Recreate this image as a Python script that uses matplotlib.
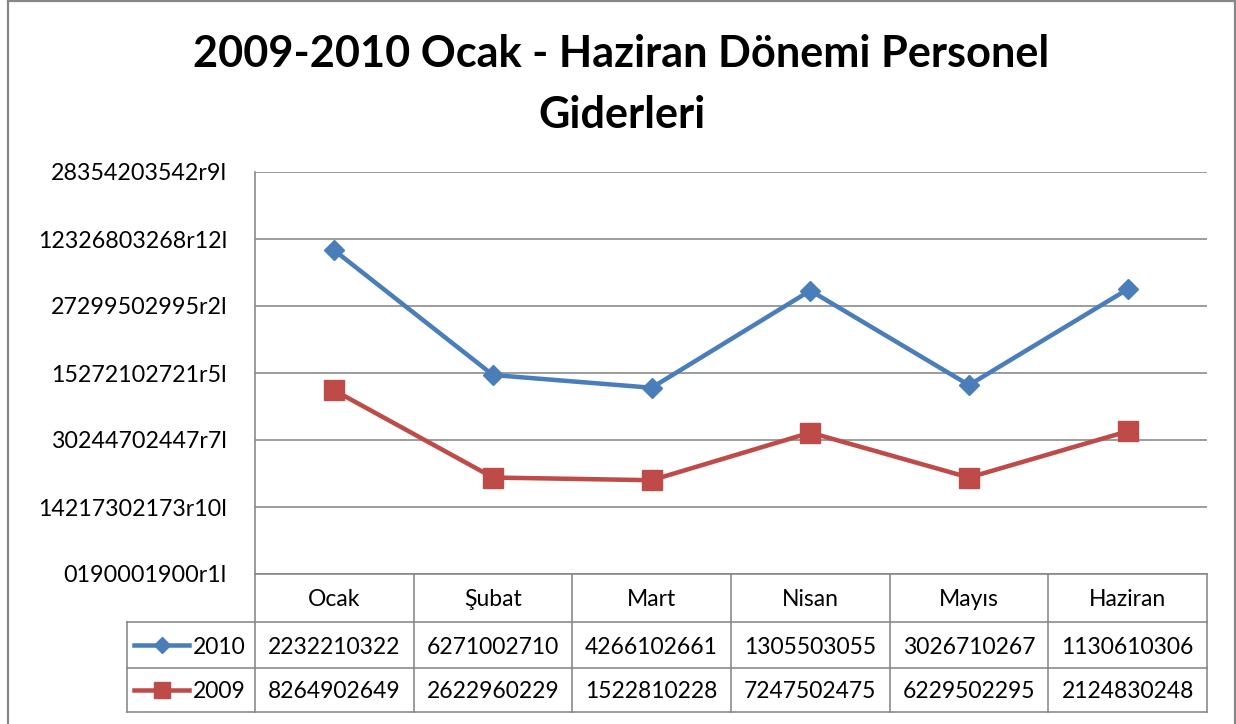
import matplotlib
matplotlib.use("Agg")
import matplotlib.pyplot as plt
from matplotlib.lines import Line2D

# ---------------- data ----------------
categories = ["Ocak", "Şubat", "Mart", "Nisan", "Mayıs", "Haziran"]
series_names = ["2010", "2009"]
values_2010 = [4.83, 2.97, 2.78, 4.23, 2.82, 4.25]
values_2009 = [2.74, 1.44, 1.40, 2.11, 1.44, 2.13]
table_2010 = ["2232210322", "6271002710", "4266102661", "1305503055",
              "3026710267", "1130610306"]
table_2009 = ["8264902649", "2622960229", "1522810228", "7247502475",
              "6229502295", "2124830248"]
ytick_values = [0, 1, 2, 3, 4, 5, 6]
ytick_labels = ["0190001900r1l", "14217302173r10l", "30244702447r7l",
                "15272102721r5l", "27299502995r2l", "12326803268r12l",
                "28354203542r9l"]
title_lines = ["2009-2010 Ocak - Haziran Dönemi Personel", "Giderleri"]

# ---------------- style ----------------
W, H = 1236, 724
FONT = "Lato"
BLUE = "#4A7EBB"
RED = "#BE4B48"
GRID = "#868686"
PX = 72.0 / 100.0  # points per pixel

fig = plt.figure(figsize=(W / 100, H / 100), dpi=100)
fig.patch.set_facecolor("white")
renderer = fig.canvas.get_renderer()


def fit_size(text, width_px, **kw):
    t = fig.text(0, 0, text, fontsize=20, family=FONT, **kw)
    w = t.get_window_extent(renderer).width
    t.remove()
    return 20.0 * width_px / w


title_fs = fit_size(title_lines[0], 855, weight="bold")
tick_fs = fit_size("12326803268r12l", 189)
cell_fs = fit_size("2232210322", 132)

# overlay in pixel coordinates
ov = fig.add_axes([0, 0, 1, 1])
ov.set_xlim(0, W)
ov.set_ylim(H, 0)
ov.axis("off")

# plot area
L, R, T, B = 255, 1207, 172, 574
ax = fig.add_axes([L / W, 1 - B / H, (R - L) / W, (B - T) / H])
ax.set_facecolor("none")
x = list(range(len(categories)))
ax.plot(x, values_2010, color=BLUE, lw=4.5 * PX, marker="D",
        ms=10.5, mfc=BLUE, mec=BLUE, zorder=4, solid_joinstyle="miter")
ax.plot(x, values_2009, color=RED, lw=4.5 * PX, marker="s",
        ms=14, mfc=RED, mec=RED, zorder=4, solid_joinstyle="miter")
ax.set_xlim(-0.5, len(categories) - 0.5)
ax.set_ylim(min(ytick_values), max(ytick_values))
ax.set_yticks(ytick_values, ytick_labels)
ax.set_xticks([])
ax.tick_params(axis="y", length=0, pad=(L - 227) * PX, labelsize=tick_fs)
for lab in ax.get_yticklabels():
    lab.set_family(FONT)
ax.grid(axis="y", color=GRID, lw=1.6 * PX)
ax.set_axisbelow(True)
for s in ["top", "right"]:
    ax.spines[s].set_visible(False)
ax.spines["left"].set_color(GRID)
ax.spines["left"].set_linewidth(1.6 * PX)
ax.spines["bottom"].set_color(GRID)
ax.spines["bottom"].set_linewidth(1.6 * PX)

# title
ov.text(621, 67, title_lines[0], ha="center", va="baseline",
        fontsize=title_fs, weight="bold", family=FONT)
ov.text(622, 128, title_lines[1], ha="center", va="baseline",
        fontsize=title_fs, weight="bold", family=FONT)

# data table
n = len(categories)
col = [L + i * (R - L) / n for i in range(n + 1)]
rows = [B, 622, 668, 712]
TL = 127
tkw = dict(color=GRID, lw=1.6 * PX)
# horizontal lines
ov.add_line(Line2D([TL, R], [rows[1], rows[1]], **tkw))
ov.add_line(Line2D([TL, R], [rows[2], rows[2]], **tkw))
ov.add_line(Line2D([TL, R], [rows[3], rows[3]], **tkw))
# vertical lines
ov.add_line(Line2D([TL, TL], [rows[1], rows[3]], **tkw))
for cx in col:
    ov.add_line(Line2D([cx, cx], [rows[0], rows[3]], **tkw))

row_c = [(rows[i] + rows[i + 1]) / 2 for i in range(3)]
for i, c in enumerate(categories):
    xc = (col[i] + col[i + 1]) / 2
    ov.text(xc, row_c[0], c, ha="center", va="center_baseline",
            fontsize=cell_fs, family=FONT)
    ov.text(xc, row_c[1], table_2010[i], ha="center", va="center_baseline",
            fontsize=cell_fs, family=FONT)
    ov.text(xc, row_c[2], table_2009[i], ha="center", va="center_baseline",
            fontsize=cell_fs, family=FONT)

# legend keys inside the table
for r, name, colr, mk, ms in [(1, series_names[0], BLUE, "D", 8),
                              (2, series_names[1], RED, "s", 12)]:
    ov.add_line(Line2D([134, 189], [row_c[r], row_c[r]], color=colr,
                       lw=4.5 * PX))
    ov.add_line(Line2D([161.5], [row_c[r]], color=colr, marker=mk, ms=ms,
                       mfc=colr, mec=colr, lw=0))
    ov.text(193, row_c[r], name, ha="left", va="center_baseline",
            fontsize=cell_fs, family=FONT)

# outer chart border
bkw = dict(color="#878787", lw=2.2 * PX)
ov.add_line(Line2D([8, 8], [1, H], **bkw))
ov.add_line(Line2D([8, 1235], [1, 1], **bkw))
ov.add_line(Line2D([1235, 1235], [1, H], **bkw))

fig.savefig("out.png", dpi=100, facecolor="white")
